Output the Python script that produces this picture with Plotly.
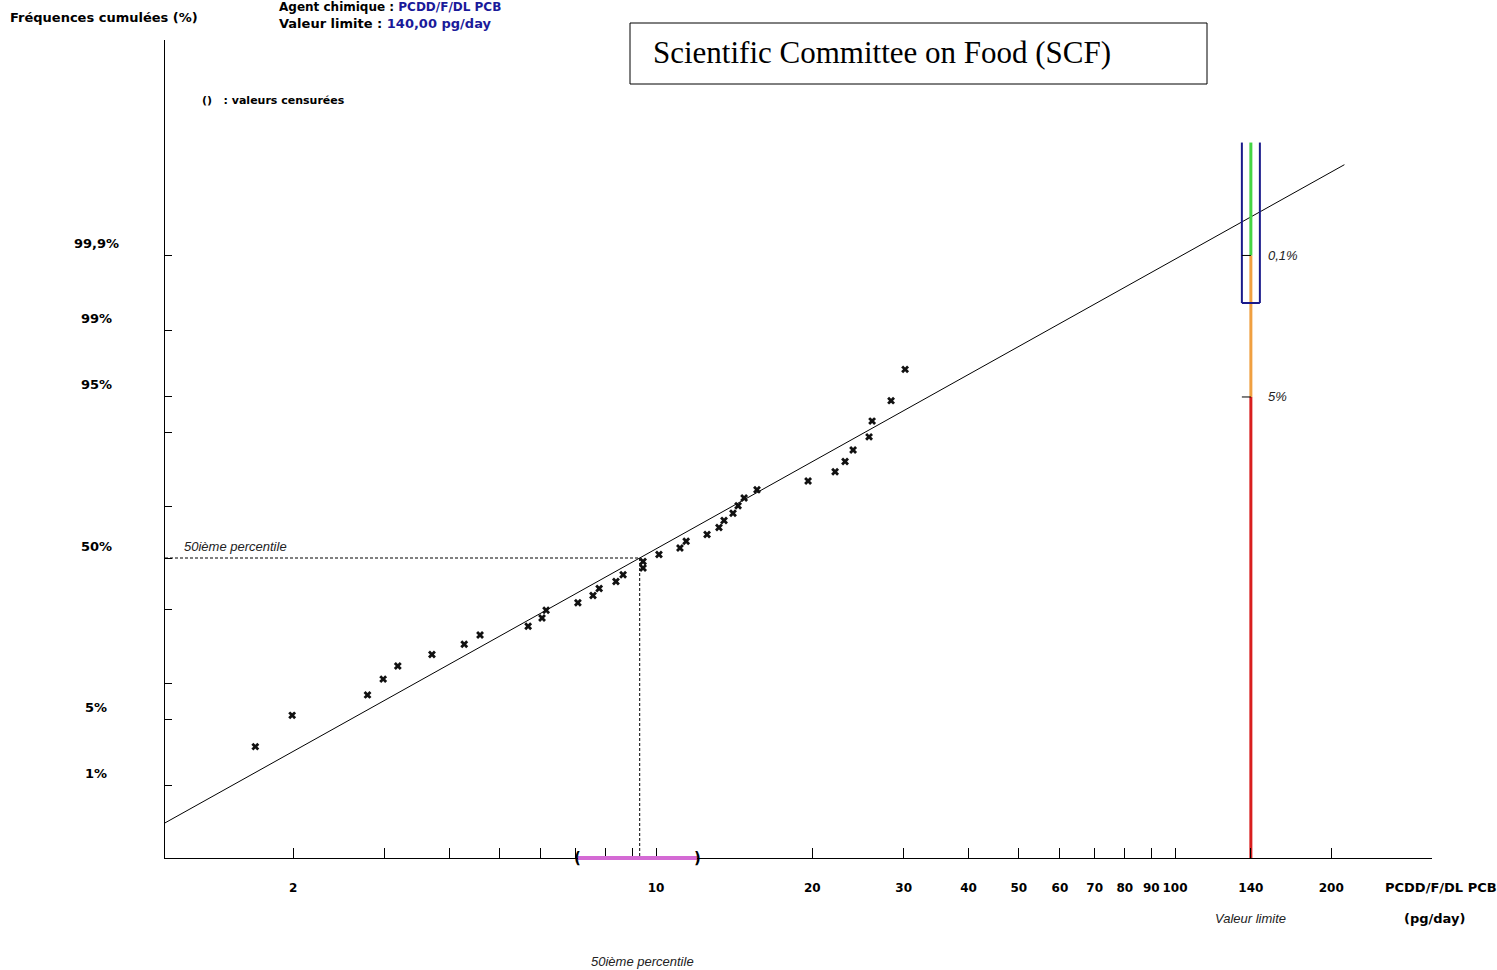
import math
from statistics import NormalDist
import plotly.graph_objects as go

# ---------------- data ----------------
conc_pg_day = [1.69, 1.99, 2.78, 2.98, 3.18, 3.70, 4.27, 4.58, 5.67, 6.03, 6.14, 7.07,
               7.56, 7.77, 8.37, 8.64, 9.44, 9.44, 10.13, 11.12, 11.43, 12.54, 13.22,
               13.52, 14.07, 14.39, 14.78, 15.65, 19.63, 22.13, 23.13, 23.97, 25.73,
               26.08, 28.37, 30.19]
cum_freq_pct = [2.7, 5.4, 8.1, 10.8, 13.5, 16.2, 18.9, 21.6, 24.3, 27.0, 29.7, 32.4,
                35.1, 37.8, 40.5, 43.2, 45.9, 48.6, 51.4, 54.1, 56.8, 59.5, 62.2,
                64.9, 67.6, 70.3, 73.0, 75.7, 78.4, 81.1, 83.8, 86.5, 89.2, 91.9,
                94.6, 97.3]

y_tick_pct = [1, 5, 10, 30, 50, 70, 90, 95, 99, 99.9]
y_label_pct = [1, 5, 50, 95, 99, 99.9]
y_label_text = ["1%", "5%", "50%", "95%", "99%", "99,9%"]

x_tick_vals = [2, 3, 4, 5, 6, 7, 8, 9, 10, 20, 30, 40, 50, 60, 70, 80, 90, 100, 140, 200]
x_labeled = {2: "2", 10: "10", 20: "20", 30: "30", 40: "40", 50: "50", 60: "60",
             70: "70", 80: "80", 90: "90", 100: "100", 140: "140", 200: "200"}

median_fit = 9.3          # 50th percentile of fitted log-normal line
sigma_log10 = 0.338       # slope of fitted line (log10 units per z)
fit_x_span = [1.13, 212]  # extent of the fitted line

limit_value = 140         # Valeur limite (pg/day)
limit_levels_pct = [95, 99.9]        # 5% and 0,1% exceedance marks
limit_box_pct = [99.54, 99.9989]     # blue interval box
median_ci = [7.07, 12.0]             # interval of the 50th percentile

x_range_vals = [1.132, 312.7]
z_range = [-3.0644, 5.2911]

# ---------------- helpers ----------------
nd = NormalDist()


def probit(p_pct):
    return nd.inv_cdf(p_pct / 100.0)


def fit_z(x):
    return (math.log10(x) - math.log10(median_fit)) / sigma_log10


L, R, T, B = 165, 65, 40, 112
W, H = 1497, 970
PW, PH = W - L - R, H - T - B


def xp(px):
    return (px - L) / PW


def yp(py):
    return (H - B - py) / PH


lx0, lx1 = math.log10(x_range_vals[0]), math.log10(x_range_vals[1])


def x_to_paper(v):
    return (math.log10(v) - lx0) / (lx1 - lx0)


z_bottom = z_range[0]
z95, z999 = probit(limit_levels_pct[0]), probit(limit_levels_pct[1])
z_box_lo, z_box_hi = probit(limit_box_pct[0]), probit(limit_box_pct[1])

fig = go.Figure()

# fitted line
fig.add_trace(go.Scatter(x=fit_x_span, y=[fit_z(v) for v in fit_x_span], mode="lines",
                         line=dict(color="black", width=1), hoverinfo="skip"))

# 50th percentile dashed guides
fig.add_trace(go.Scatter(x=[x_range_vals[0], median_fit], y=[0, 0], mode="lines",
                         line=dict(color="black", width=1, dash="3px,2px"), hoverinfo="skip"))
fig.add_trace(go.Scatter(x=[median_fit, median_fit], y=[0, z_bottom], mode="lines",
                         line=dict(color="black", width=1, dash="3px,2px"), hoverinfo="skip"))

# data points
fig.add_trace(go.Scatter(x=conc_pg_day, y=[probit(p) for p in cum_freq_pct], mode="markers",
                         marker=dict(symbol="x", size=7, color="#111111",
                                     line=dict(width=0))))

# limit line segments
fig.add_trace(go.Scatter(x=[limit_value, limit_value], y=[z_bottom, z95], mode="lines",
                         line=dict(color="#d81e1e", width=3)))
fig.add_trace(go.Scatter(x=[limit_value, limit_value], y=[z95, z999], mode="lines",
                         line=dict(color="#f0a040", width=3)))
fig.add_trace(go.Scatter(x=[limit_value, limit_value], y=[z999, z_box_hi], mode="lines",
                         line=dict(color="#44d444", width=3)))

shapes = []
lim_p = x_to_paper(limit_value)
half = 9 / PW
box_line = dict(color="#1a1a8a", width=2)
shapes.append(dict(type="line", xref="paper", yref="y", x0=lim_p - half, x1=lim_p - half,
                   y0=z_box_lo, y1=z_box_hi, line=box_line))
shapes.append(dict(type="line", xref="paper", yref="y", x0=lim_p + half, x1=lim_p + half,
                   y0=z_box_lo, y1=z_box_hi, line=box_line))
shapes.append(dict(type="line", xref="paper", yref="y", x0=lim_p - half, x1=lim_p + half,
                   y0=z_box_lo, y1=z_box_lo, line=box_line))
for z in (z95, z999):
    shapes.append(dict(type="line", xref="paper", yref="y", x0=lim_p - half, x1=lim_p,
                       y0=z, y1=z, line=dict(color="black", width=1)))
# median interval bar on x axis
shapes.append(dict(type="line", xref="x", yref="paper", x0=median_ci[0], x1=median_ci[1],
                   y0=0, y1=0, line=dict(color="#d46ad4", width=4)))
# title box
shapes.append(dict(type="rect", xref="paper", yref="paper", x0=xp(630), x1=xp(1207),
                   y0=yp(84), y1=yp(23), line=dict(color="black", width=1)))

bold = dict(family="DejaVu Sans", size=13, color="black")
tickbold = dict(family="DejaVu Sans", size=12, color="black")
ital = dict(family="Liberation Sans", size=13, color="#222222")

annotations = []
for p, t in zip(y_label_pct, y_label_text):
    annotations.append(dict(xref="paper", yref="y", x=xp(96), y=probit(p), yshift=12,
                            text="<b>" + t + "</b>", showarrow=False, font=bold,
                            xanchor="center", yanchor="middle"))

annotations += [
    dict(xref="paper", yref="paper", x=xp(8), y=yp(18), text="<b>Fréquences cumulées (%)</b>",
         showarrow=False, font=bold, xanchor="left", yanchor="middle"),
    dict(xref="paper", yref="paper", x=xp(277), y=yp(7),
         text="<b>Agent chimique : <span style='color:#1a1a9a'>PCDD/F/DL PCB</span></b>",
         showarrow=False, font=dict(family="DejaVu Sans", size=12, color="black"),
         xanchor="left", yanchor="middle"),
    dict(xref="paper", yref="paper", x=xp(277), y=yp(24),
         text="<b>Valeur limite : <span style='color:#1a1a9a'>140,00 pg/day</span></b>",
         showarrow=False, font=bold, xanchor="left", yanchor="middle"),
    dict(xref="paper", yref="paper", x=xp(200), y=yp(100),
         text="<b>()   : valeurs censurées</b>", showarrow=False,
         font=dict(family="DejaVu Sans", size=11, color="black"),
         xanchor="left", yanchor="middle"),
    dict(xref="paper", yref="paper", x=xp(651), y=yp(53),
         text="Scientific Committee on Food (SCF)", showarrow=False,
         font=dict(family="Liberation Serif", size=31, color="black"),
         xanchor="left", yanchor="middle"),
    dict(xref="paper", yref="y", x=xp(182), y=0, yshift=12, text="<i>50ième percentile</i>",
         showarrow=False, font=ital, xanchor="left", yanchor="middle"),
    dict(xref="paper", yref="paper", x=xp(642), y=yp(962), text="<i>50ième percentile</i>",
         showarrow=False, font=ital, xanchor="center", yanchor="middle"),
    dict(xref="paper", yref="paper", x=xp(1250), y=yp(919), text="<i>Valeur limite</i>",
         showarrow=False, font=ital, xanchor="center", yanchor="middle"),
    dict(xref="paper", yref="paper", x=xp(1434), y=yp(919), text="<b>(pg/day)</b>",
         showarrow=False, font=bold, xanchor="center", yanchor="middle"),
    dict(xref="paper", yref="paper", x=xp(1441), y=yp(888), text="<b>PCDD/F/DL PCB</b>",
         showarrow=False, font=bold, xanchor="center", yanchor="middle"),
    dict(xref="paper", yref="y", x=xp(1266), y=z999, text="<i>0,1%</i>",
         showarrow=False, font=ital, xanchor="left", yanchor="middle"),
    dict(xref="paper", yref="y", x=xp(1266), y=z95, text="<i>5%</i>",
         showarrow=False, font=ital, xanchor="left", yanchor="middle"),
    dict(xref="x", yref="y", x=math.log10(median_ci[0]), y=z_bottom, text="<b>(</b>",
         showarrow=False, font=dict(family="DejaVu Sans", size=15, color="black"),
         xanchor="center", yanchor="middle"),
    dict(xref="x", yref="y", x=math.log10(median_ci[1]), y=z_bottom, text="<b>)</b>",
         showarrow=False, font=dict(family="DejaVu Sans", size=15, color="black"),
         xanchor="center", yanchor="middle"),
]

fig.update_layout(
    width=W, height=H, margin=dict(l=L, r=R, t=T, b=B, autoexpand=False),
    paper_bgcolor="white", plot_bgcolor="white", showlegend=False,
    shapes=shapes, annotations=annotations,
    xaxis=dict(type="log", range=[lx0, lx1],
               showgrid=False, zeroline=False, showline=True, linecolor="black", linewidth=1,
               ticks="inside", ticklen=10, tickcolor="black", tickwidth=1,
               tickvals=x_tick_vals, tickangle=0,
               ticktext=["<b>" + x_labeled[v] + "</b>" if v in x_labeled else "" for v in x_tick_vals],
               tickfont=tickbold, ticklabelstandoff=19),
    yaxis=dict(range=z_range, showgrid=False, zeroline=False, showline=True,
               linecolor="black", linewidth=1, ticks="inside", ticklen=7,
               tickcolor="black", tickvals=[probit(p) for p in y_tick_pct],
               showticklabels=False),
)

fig.write_html("out.html",
               config={"displayModeBar": False},
               post_script="document.body.style.margin='0';document.body.style.overflow='hidden';")
